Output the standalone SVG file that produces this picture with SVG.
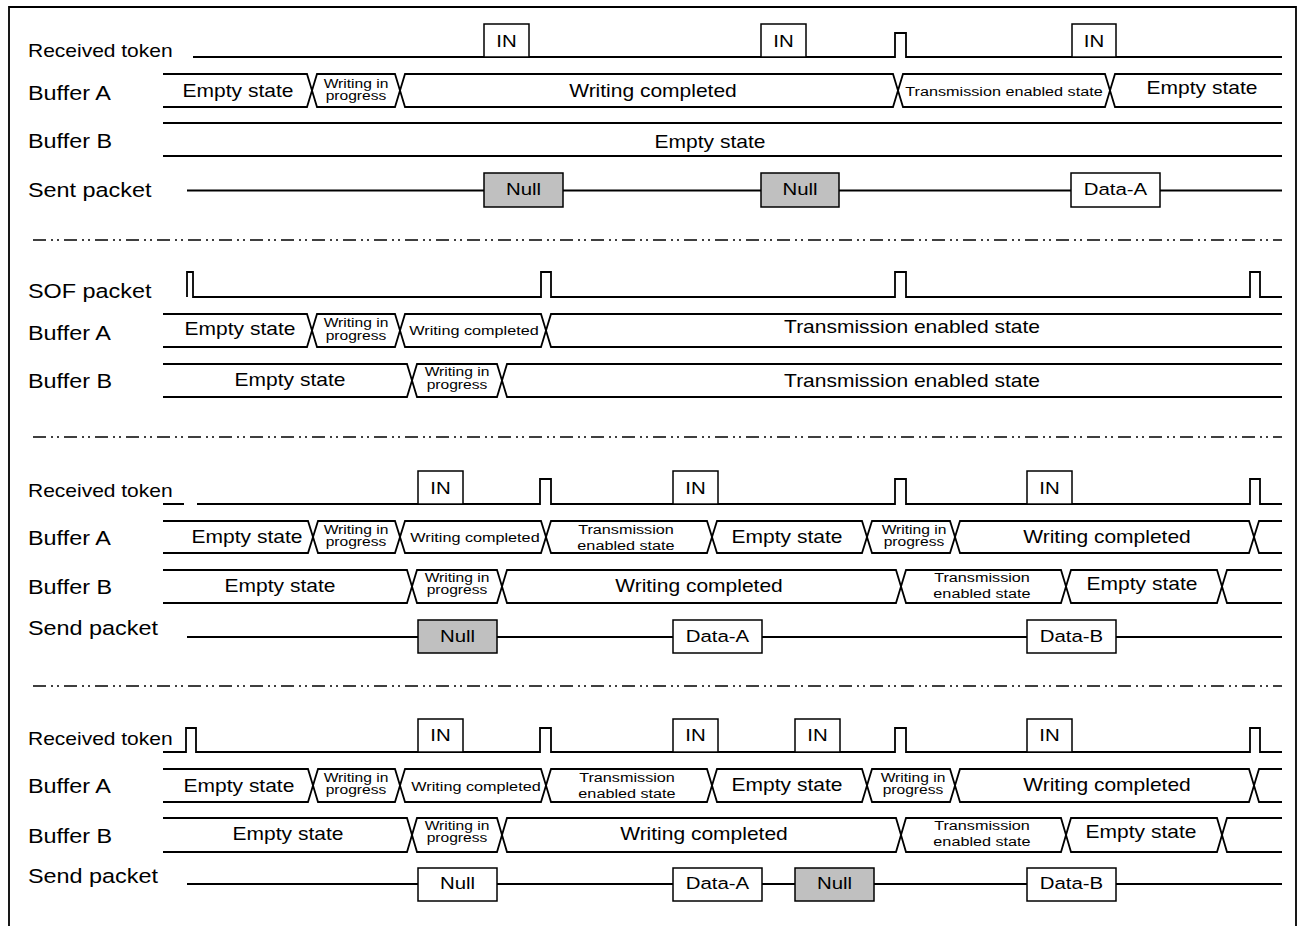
<svg xmlns="http://www.w3.org/2000/svg" width="1302" height="926" viewBox="0 0 1302 926">
<style>
text{font-family:"Liberation Sans",Arial,sans-serif;fill:#000;text-anchor:middle;transform-box:fill-box;transform-origin:center;transform:scaleX(1.2)}
.lbl{font-size:19.5px;text-anchor:start;transform-origin:left center}
.lbs{font-size:17.5px;text-anchor:start;transform-origin:left center}
.big{font-size:17.5px}
.sm{font-size:13.5px}
.wp{font-size:13px}
.bx{font-size:17px}
.ln{fill:none;stroke:#000;stroke-width:1.8}
.sg{fill:none;stroke:#000;stroke-width:1.8;stroke-linejoin:miter}
.box{fill:#fff;stroke:#000;stroke-width:1.5}
.gray{fill:#c0c0c0;stroke:#000;stroke-width:1.5}
.sep{fill:none;stroke:#000;stroke-width:1.6;stroke-dasharray:13 5 2 4 2 5}
</style>
<g id="frame"><path class="ln" d="M9,926 V7 H1296 V926"/></g>
<g id="connectors">
<path class="sep" d="M33,240 H1282"/>
<path class="sep" d="M33,437 H1282"/>
<path class="sep" d="M33,686 H1282"/>
</g>

<!-- Section 1 -->
<g id="s1-token">
<text class="lbs" x="28" y="57">Received token</text>
<path class="sg" d="M193,57 H895 V33 H906 V57 H1282"/>
<rect class="box" x="484" y="24" width="45" height="33"/><text class="bx" x="506.5" y="47">IN</text>
<rect class="box" x="761" y="24" width="45" height="33"/><text class="bx" x="783.5" y="47">IN</text>
<rect class="box" x="1072" y="24" width="44" height="33"/><text class="bx" x="1094" y="47">IN</text>
</g>
<g id="s1-bufA">
<text class="lbl" x="28" y="100">Buffer A</text>
<path class="sg" d="M163,74 H307 L312,90.5 L307,107 H163"/>
<path class="sg" d="M312,90.5 L317,74 H395 L400,90.5 L395,107 H317 Z"/>
<path class="sg" d="M400,90.5 L405,74 H893 L898,90.5 L893,107 H405 Z"/>
<path class="sg" d="M898,90.5 L903,74 H1105 L1110,90.5 L1105,107 H903 Z"/>
<path class="sg" d="M1282,74 H1115 L1110,90.5 L1115,107 H1282"/>
<text class="big" x="238" y="97">Empty state</text>
<text class="wp" x="356" y="88">Writing in</text><text class="wp" x="356" y="100">progress</text>
<text class="big" x="653" y="97">Writing completed</text>
<text class="sm" x="1004" y="96">Transmission enabled state</text>
<text class="big" x="1202" y="94">Empty state</text>
</g>
<g id="s1-bufB">
<text class="lbl" x="28" y="148">Buffer B</text>
<path class="sg" d="M163,123 H1282 M163,156 H1282"/>
<text class="big" x="710" y="148">Empty state</text>
</g>
<g id="s1-sent">
<text class="lbl" x="28" y="197">Sent packet</text>
<path class="sg" d="M187,190.5 H1282"/>
<rect class="gray" x="484" y="173" width="79" height="34"/><text class="bx" x="523.5" y="195">Null</text>
<rect class="gray" x="761" y="173" width="78" height="34"/><text class="bx" x="800" y="195">Null</text>
<rect class="box" x="1071" y="173" width="89" height="34"/><text class="bx" x="1115.5" y="195">Data-A</text>
</g>

<!-- Section 2 -->
<g id="s2-sof">
<text class="lbl" x="28" y="298">SOF packet</text>
<path class="sg" d="M187,297 V272 H193 V297 H541 V272 H551 V297 H895 V272 H906 V297 H1250 V272 H1260 V297 H1282"/>
</g>
<g id="s2-bufA">
<text class="lbl" x="28" y="340">Buffer A</text>
<path class="sg" d="M163,314 H307 L312,330.5 L307,347 H163"/>
<path class="sg" d="M312,330.5 L317,314 H395 L400,330.5 L395,347 H317 Z"/>
<path class="sg" d="M400,330.5 L405,314 H541 L546,330.5 L541,347 H405 Z"/>
<path class="sg" d="M1282,314 H551 L546,330.5 L551,347 H1282"/>
<text class="big" x="240" y="335">Empty state</text>
<text class="wp" x="356" y="327">Writing in</text><text class="wp" x="356" y="340">progress</text>
<text class="sm" x="474" y="335">Writing completed</text>
<text class="big" x="912" y="333">Transmission enabled state</text>
</g>
<g id="s2-bufB">
<text class="lbl" x="28" y="388">Buffer B</text>
<path class="sg" d="M163,364 H407 L412,380.5 L407,397 H163"/>
<path class="sg" d="M412,380.5 L417,364 H497 L502,380.5 L497,397 H417 Z"/>
<path class="sg" d="M1282,364 H507 L502,380.5 L507,397 H1282"/>
<text class="big" x="290" y="386">Empty state</text>
<text class="wp" x="457" y="376">Writing in</text><text class="wp" x="457" y="389">progress</text>
<text class="big" x="912" y="387">Transmission enabled state</text>
</g>

<!-- Section 3 -->
<g id="s3-token">
<text class="lbs" x="28" y="497">Received token</text>
<path class="sg" d="M163,504 H184 M197,504 H540 V479 H551 V504 H895 V479 H906 V504 H1250 V479 H1260 V504 H1282"/>
<rect class="box" x="418" y="471" width="45" height="33"/><text class="bx" x="440.5" y="494">IN</text>
<rect class="box" x="673" y="471" width="45" height="33"/><text class="bx" x="695.5" y="494">IN</text>
<rect class="box" x="1027" y="471" width="45" height="33"/><text class="bx" x="1049.5" y="494">IN</text>
</g>
<g id="s3-bufA">
<text class="lbl" x="28" y="545">Buffer A</text>
<path class="sg" d="M163,521 H308 L313,537 L308,553 H163"/>
<path class="sg" d="M313,537 L318,521 H395 L400,537 L395,553 H318 Z"/>
<path class="sg" d="M400,537 L405,521 H541 L546,537 L541,553 H405 Z"/>
<path class="sg" d="M546,537 L551,521 H707 L712,537 L707,553 H551 Z"/>
<path class="sg" d="M712,537 L717,521 H862 L867,537 L862,553 H717 Z"/>
<path class="sg" d="M867,537 L872,521 H950 L955,537 L950,553 H872 Z"/>
<path class="sg" d="M955,537 L960,521 H1249 L1254,537 L1249,553 H960 Z"/>
<path class="sg" d="M1282,521 H1259 L1254,537 L1259,553 H1282"/>
<text class="big" x="247" y="543">Empty state</text>
<text class="wp" x="356" y="534">Writing in</text><text class="wp" x="356" y="546">progress</text>
<text class="sm" x="475" y="542">Writing completed</text>
<text class="sm" x="626" y="534">Transmission</text><text class="sm" x="626" y="550">enabled state</text>
<text class="big" x="787" y="543">Empty state</text>
<text class="wp" x="914" y="534">Writing in</text><text class="wp" x="914" y="546">progress</text>
<text class="big" x="1107" y="543">Writing completed</text>
</g>
<g id="s3-bufB">
<text class="lbl" x="28" y="594">Buffer B</text>
<path class="sg" d="M163,570 H407 L412,586.5 L407,603 H163"/>
<path class="sg" d="M412,586.5 L417,570 H497 L502,586.5 L497,603 H417 Z"/>
<path class="sg" d="M502,586.5 L507,570 H896 L901,586.5 L896,603 H507 Z"/>
<path class="sg" d="M901,586.5 L906,570 H1061 L1066,586.5 L1061,603 H906 Z"/>
<path class="sg" d="M1066,586.5 L1071,570 H1217 L1222,586.5 L1217,603 H1071 Z"/>
<path class="sg" d="M1282,570 H1227 L1222,586.5 L1227,603 H1282"/>
<text class="big" x="280" y="592">Empty state</text>
<text class="wp" x="457" y="582">Writing in</text><text class="wp" x="457" y="594">progress</text>
<text class="big" x="699" y="592">Writing completed</text>
<text class="sm" x="982" y="582">Transmission</text><text class="sm" x="982" y="598">enabled state</text>
<text class="big" x="1142" y="590">Empty state</text>
</g>
<g id="s3-send">
<text class="lbl" x="28" y="635">Send packet</text>
<path class="sg" d="M187,637 H1282"/>
<rect class="gray" x="418" y="620" width="79" height="33"/><text class="bx" x="457.5" y="642">Null</text>
<rect class="box" x="673" y="620" width="89" height="33"/><text class="bx" x="717.5" y="642">Data-A</text>
<rect class="box" x="1027" y="620" width="89" height="33"/><text class="bx" x="1071.5" y="642">Data-B</text>
</g>

<!-- Section 4 -->
<g id="s4-token">
<text class="lbs" x="28" y="745">Received token</text>
<path class="sg" d="M163,752 H186 V728 H196 V752 H540 V728 H551 V752 H895 V728 H906 V752 H1250 V728 H1260 V752 H1282"/>
<rect class="box" x="418" y="719" width="45" height="33"/><text class="bx" x="440.5" y="741">IN</text>
<rect class="box" x="673" y="719" width="45" height="33"/><text class="bx" x="695.5" y="741">IN</text>
<rect class="box" x="795" y="719" width="45" height="33"/><text class="bx" x="817.5" y="741">IN</text>
<rect class="box" x="1027" y="719" width="45" height="33"/><text class="bx" x="1049.5" y="741">IN</text>
</g>
<g id="s4-bufA">
<text class="lbl" x="28" y="793">Buffer A</text>
<path class="sg" d="M163,769 H308 L313,785.5 L308,802 H163"/>
<path class="sg" d="M313,785.5 L318,769 H395 L400,785.5 L395,802 H318 Z"/>
<path class="sg" d="M400,785.5 L405,769 H541 L546,785.5 L541,802 H405 Z"/>
<path class="sg" d="M546,785.5 L551,769 H707 L712,785.5 L707,802 H551 Z"/>
<path class="sg" d="M712,785.5 L717,769 H862 L867,785.5 L862,802 H717 Z"/>
<path class="sg" d="M867,785.5 L872,769 H950 L955,785.5 L950,802 H872 Z"/>
<path class="sg" d="M955,785.5 L960,769 H1249 L1254,785.5 L1249,802 H960 Z"/>
<path class="sg" d="M1282,769 H1259 L1254,785.5 L1259,802 H1282"/>
<text class="big" x="239" y="792">Empty state</text>
<text class="wp" x="356" y="782">Writing in</text><text class="wp" x="356" y="794">progress</text>
<text class="sm" x="476" y="791">Writing completed</text>
<text class="sm" x="627" y="782">Transmission</text><text class="sm" x="627" y="798">enabled state</text>
<text class="big" x="787" y="791">Empty state</text>
<text class="wp" x="913" y="782">Writing in</text><text class="wp" x="913" y="794">progress</text>
<text class="big" x="1107" y="791">Writing completed</text>
</g>
<g id="s4-bufB">
<text class="lbl" x="28" y="843">Buffer B</text>
<path class="sg" d="M163,818 H407 L412,835 L407,852 H163"/>
<path class="sg" d="M412,835 L417,818 H497 L502,835 L497,852 H417 Z"/>
<path class="sg" d="M502,835 L507,818 H896 L901,835 L896,852 H507 Z"/>
<path class="sg" d="M901,835 L906,818 H1061 L1066,835 L1061,852 H906 Z"/>
<path class="sg" d="M1066,835 L1071,818 H1217 L1222,835 L1217,852 H1071 Z"/>
<path class="sg" d="M1282,818 H1227 L1222,835 L1227,852 H1282"/>
<text class="big" x="288" y="840">Empty state</text>
<text class="wp" x="457" y="830">Writing in</text><text class="wp" x="457" y="842">progress</text>
<text class="big" x="704" y="840">Writing completed</text>
<text class="sm" x="982" y="830">Transmission</text><text class="sm" x="982" y="846">enabled state</text>
<text class="big" x="1141" y="838">Empty state</text>
</g>
<g id="s4-send">
<text class="lbl" x="28" y="883">Send packet</text>
<path class="sg" d="M187,884 H1282"/>
<rect class="box" x="418" y="868" width="79" height="33"/><text class="bx" x="457.5" y="889">Null</text>
<rect class="box" x="673" y="868" width="89" height="33"/><text class="bx" x="717.5" y="889">Data-A</text>
<rect class="gray" x="795" y="868" width="79" height="33"/><text class="bx" x="834.5" y="889">Null</text>
<rect class="box" x="1027" y="868" width="89" height="33"/><text class="bx" x="1071.5" y="889">Data-B</text>
</g>
</svg>
